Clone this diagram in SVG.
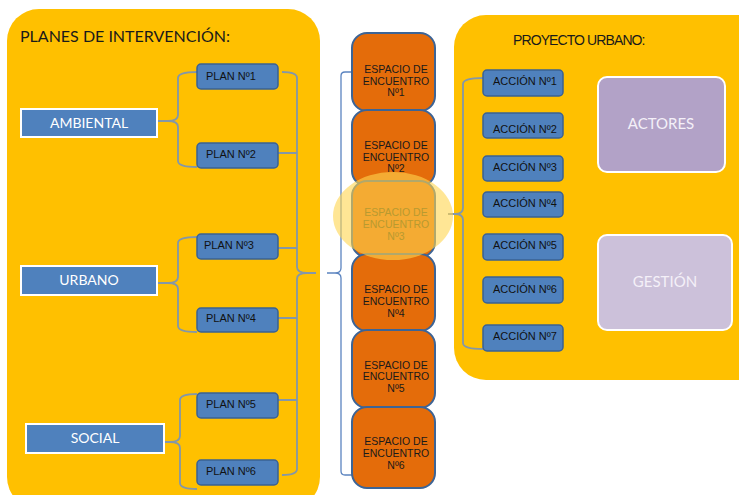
<svg xmlns="http://www.w3.org/2000/svg" width="739" height="495" viewBox="0 0 739 495">
<defs>
<style>
.panel{fill:#ffc000}
.cat{fill:#4f81bd;stroke:#ffffff;stroke-width:2}
.catt{font-family:Lato,"Open Sans",sans-serif;font-size:14px;fill:#ffffff;text-anchor:middle}
.sm{fill:#4f81bd;stroke:#3a6193;stroke-width:1.5}
.smt{font-family:"Liberation Sans",Arial,sans-serif;font-size:11px;fill:#111111}
.esp{fill:#e46c0a;stroke:#3c6496;stroke-width:2}
.espt{font-family:"Liberation Sans",Arial,sans-serif;font-size:10.5px;fill:#1a1a1a;text-anchor:middle}
.br{fill:none;stroke:#8497a8;stroke-width:1.8}
.bb{fill:none;stroke:#5b84c0;stroke-width:1.3}
.big{fill:#ffffff;stroke-width:2;stroke:#ffffff}
.bigt{font-family:Lato,"Open Sans",sans-serif;font-size:15px;fill:#f4f0f8;text-anchor:middle}
</style>
</defs>
<rect width="739" height="495" fill="#ffffff"/>
<g id="panel-left">
<rect class="panel" x="7" y="9" width="313" height="500" rx="32"/>
<text x="20" y="42" font-family="Lato,'Open Sans',sans-serif" font-size="16" fill="#1a1a1a">PLANES DE INTERVENCIÓN:</text>
</g>
<g id="panel-right">
<rect class="panel" x="454" y="15" width="320" height="365" rx="32"/>
<text x="513" y="45" font-family="'Liberation Sans',Arial,sans-serif" font-size="14" letter-spacing="-0.9" fill="#1a1a1a">PROYECTO URBANO:</text>
</g>
<g id="connectors">
<path class="br" d="M197,72 Q178,72 178,78 L178,115 Q178,121 168,121 L157,121 M168,121 Q178,121 178,127 L178,161 Q178,167 197,167"/>
<path class="br" d="M197,237 Q178,237 178,243 L178,277 Q178,283 168,283 L157,283 M168,283 Q178,283 178,289 L178,326 Q178,332 197,332"/>
<path class="br" d="M197,394 Q180,394 180,400 L180,436 Q180,442 170,442 L164,442 M170,442 Q180,442 180,448 L180,483 Q180,489 197,489"/>
<path class="br" d="M282,72 Q297,72 297,78 L297,267 Q297,273 307,273 L316,273 M307,273 Q297,273 297,279 L297,469 Q297,475 282,475 M278,153 L297,153 M278,248 L297,248 M278,318 L297,318 M278,400 L297,400"/>
<path class="bb" d="M352,72 L345,72 Q341,72 341,76 L341,268 Q341,273 335,273 L327,273 M335,273 Q341,273 341,278 L341,471 Q341,475 345,475 L352,475"/>
<path class="br" d="M483,78 Q463,78 463,84 L463,208 Q463,214 455,214 L448,214 M455,214 Q463,214 463,220 L463,343 Q463,349 483,349"/>
</g>
<g id="ambiental"><rect class="cat" x="21" y="109" width="136" height="28"/><text class="catt" x="89" y="128">AMBIENTAL</text></g>
<g id="urbano"><rect class="cat" x="21" y="266" width="136" height="29"/><text class="catt" x="89" y="285">URBANO</text></g>
<g id="social"><rect class="cat" x="26" y="424" width="138" height="29"/><text class="catt" x="95" y="443">SOCIAL</text></g>
<g id="plan1"><rect class="sm" x="197" y="64" width="81" height="25" rx="4"/><text class="smt" x="206" y="80">PLAN Nº1</text></g>
<g id="plan2"><rect class="sm" x="197" y="143" width="81" height="25" rx="4"/><text class="smt" x="206" y="158">PLAN Nº2</text></g>
<g id="plan3"><rect class="sm" x="197" y="234" width="81" height="25" rx="4"/><text class="smt" x="204" y="249">PLAN Nº3</text></g>
<g id="plan4"><rect class="sm" x="197" y="308" width="81" height="24" rx="4"/><text class="smt" x="206" y="322">PLAN Nº4</text></g>
<g id="plan5"><rect class="sm" x="197" y="393" width="81" height="25" rx="4"/><text class="smt" x="206" y="408">PLAN Nº5</text></g>
<g id="plan6"><rect class="sm" x="197" y="460" width="81" height="25" rx="4"/><text class="smt" x="206" y="475">PLAN Nº6</text></g>
<g id="espacio1"><rect class="esp" x="352" y="33" width="83" height="78" rx="15"/><text class="espt" x="396" y="73">ESPACIO DE</text><text class="espt" x="396" y="85">ENCUENTRO</text><text class="espt" x="396" y="96">Nº1</text></g>
<g id="espacio2"><rect class="esp" x="352" y="110" width="83" height="76" rx="15"/><text class="espt" x="396" y="149">ESPACIO DE</text><text class="espt" x="396" y="161">ENCUENTRO</text><text class="espt" x="396" y="172">Nº2</text></g>
<g id="espacio3"><rect class="esp" x="352" y="181" width="83" height="76" rx="15"/></g>
<g id="espacio4"><rect class="esp" x="352" y="254" width="83" height="77" rx="15"/><text class="espt" x="396" y="293">ESPACIO DE</text><text class="espt" x="396" y="305">ENCUENTRO</text><text class="espt" x="396" y="317">Nº4</text></g>
<g id="espacio5"><rect class="esp" x="352" y="330" width="83" height="78" rx="15"/><text class="espt" x="396" y="369">ESPACIO DE</text><text class="espt" x="396" y="380">ENCUENTRO</text><text class="espt" x="396" y="392">Nº5</text></g>
<g id="espacio6"><rect class="esp" x="352" y="407" width="83" height="81" rx="15"/><text class="espt" x="396" y="445">ESPACIO DE</text><text class="espt" x="396" y="457">ENCUENTRO</text><text class="espt" x="396" y="469">Nº6</text></g>
<g id="highlight">
<ellipse cx="393" cy="216" rx="60" ry="44" fill="#ffd54f" fill-opacity="0.6"/>
<text class="espt" x="396" y="216" fill="#b89a30" style="fill:#b89a30">ESPACIO DE</text><text class="espt" x="396" y="228" style="fill:#b89a30">ENCUENTRO</text><text class="espt" x="396" y="240" style="fill:#b89a30">Nº3</text>
</g>
<g id="accion1"><rect class="sm" x="483" y="70" width="80" height="26" rx="4"/><text class="smt" x="493" y="85">ACCIÓN Nº1</text></g>
<g id="accion2"><rect class="sm" x="483" y="113" width="80" height="25" rx="4"/><text class="smt" x="493" y="133">ACCIÓN Nº2</text></g>
<g id="accion3"><rect class="sm" x="483" y="156" width="80" height="25" rx="4"/><text class="smt" x="493" y="171">ACCIÓN Nº3</text></g>
<g id="accion4"><rect class="sm" x="483" y="192" width="80" height="25" rx="4"/><text class="smt" x="493" y="207">ACCIÓN Nº4</text></g>
<g id="accion5"><rect class="sm" x="483" y="234" width="80" height="26" rx="4"/><text class="smt" x="493" y="249">ACCIÓN Nº5</text></g>
<g id="accion6"><rect class="sm" x="483" y="277" width="80" height="26" rx="4"/><text class="smt" x="493" y="293">ACCIÓN Nº6</text></g>
<g id="accion7"><rect class="sm" x="483" y="325" width="80" height="26" rx="4"/><text class="smt" x="493" y="340">ACCIÓN Nº7</text></g>
<g id="actores"><rect x="598" y="77" width="127" height="95" rx="9" fill="#b2a2c7" stroke="#ffffff" stroke-width="2"/><text class="bigt" x="661" y="129">ACTORES</text></g>
<g id="gestion"><rect x="598" y="235" width="134" height="95" rx="9" fill="#ccc1da" stroke="#ffffff" stroke-width="2"/><text class="bigt" x="665" y="287">GESTIÓN</text></g>
</svg>
